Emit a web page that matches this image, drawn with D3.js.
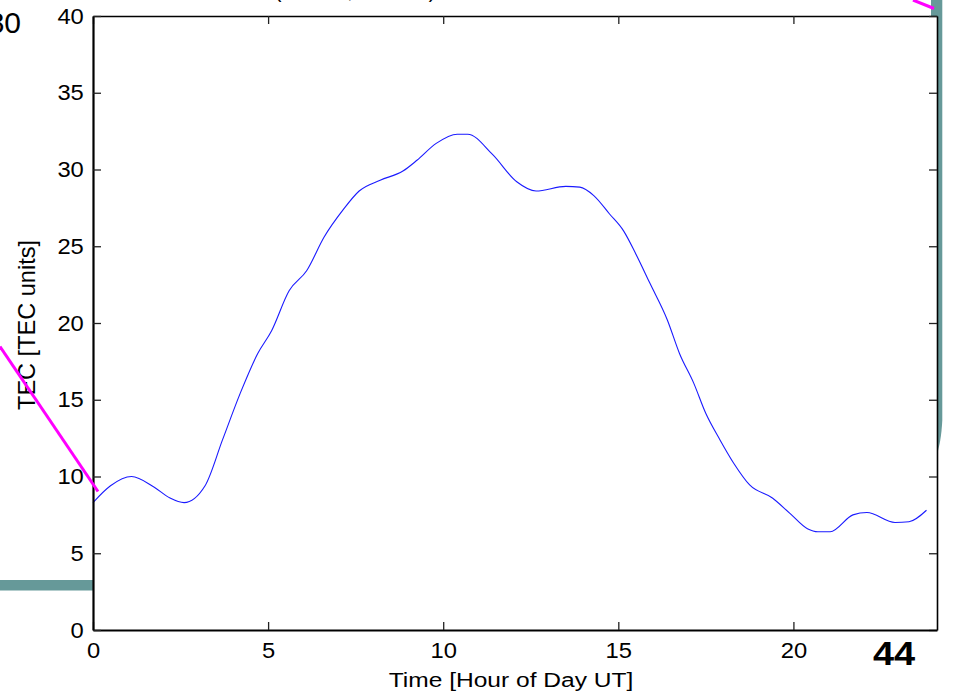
<!DOCTYPE html>
<html>
<head>
<meta charset="utf-8">
<script src="https://cdn.jsdelivr.net/npm/d3@7"></script>
<style>
  html, body { margin: 0; padding: 0; background: #fff; }
  #container { width: 955px; height: 695px; overflow: hidden; }
  text { font-family: "Liberation Sans", Arial, Helvetica, sans-serif; fill: #000; }
</style>
</head>
<body>
<div id="container"></div>
<script>
// TEC curve
const hours = [0, 0.5, 1.1, 1.75, 2.2, 2.6, 3.2, 3.7, 4.2, 4.7, 5.1, 5.6, 6.1, 6.6, 7.15, 7.6, 8.2, 8.85, 9.25, 9.8, 10.4, 10.7, 11.4, 12.1, 12.65, 13.5, 13.9, 14.3, 14.75, 15.15, 15.5, 15.9, 16.4, 16.75, 17.15, 17.5, 17.9, 18.3, 18.75, 19.4, 19.9, 20.4, 20.7, 21.05, 21.7, 22.1, 22.9, 23.3, 23.8];
const tec = [8.3, 9.4, 10.0, 9.3, 8.6, 8.3, 9.4, 12.4, 15.4, 18.0, 19.5, 22.1, 23.4, 25.6, 27.4, 28.6, 29.3, 29.9, 30.6, 31.7, 32.3, 32.3, 31.0, 29.2, 28.6, 28.9, 28.85, 28.3, 27.1, 26.0, 24.5, 22.6, 20.2, 18.0, 16.1, 14.1, 12.4, 10.85, 9.45, 8.6, 7.6, 6.6, 6.4, 6.4, 7.5, 7.65, 7.0, 7.05, 7.8];

const xTicks = [0, 5, 10, 15, 20];
const yTicks = [0, 5, 10, 15, 20, 25, 30, 35, 40];
const xDomain = [0, 24.1];
const yDomain = [0, 40];

const xLabel = "Time [Hour of Day UT]";
const yLabel = "TEC [TEC units]";
const slideNumber = "44";

const W = 955, H = 695;
const box = { left: 93, top: 16, right: 937, bottom: 630 };
const teal = "#669999";
const magenta = "#ff00ff";

const svg = d3.select("#container").append("svg")
    .attr("width", W).attr("height", H);

// slide decorations behind the plot
svg.append("rect").attr("x", 0).attr("y", 580).attr("width", box.left).attr("height", 10.5).attr("fill", teal);
svg.append("path")
    .attr("d", "M931,0 L942.3,0 L942.3,420 C941.5,436 939.5,446 937,454 L931,454 Z")
    .attr("fill", teal);

// clipped pieces of the slide title and a number from the previous slide
svg.append("text").attr("x", 21).attr("y", 33).attr("text-anchor", "end")
    .style("font-size", "30px").text("30");
[["(", 278], [",", 350], [")", 432]].forEach(([s, px]) => {
    svg.append("text").attr("x", px).attr("y", -2.5).attr("text-anchor", "middle")
        .style("font-size", "20px").text(s);
});

const x = d3.scaleLinear().domain(xDomain).range([box.left, box.right]);
const y = d3.scaleLinear().domain(yDomain).range([box.bottom, box.top]);

svg.append("rect")
    .attr("x", box.left).attr("y", box.top)
    .attr("width", box.right - box.left).attr("height", box.bottom - box.top)
    .attr("fill", "#fff");

const line = d3.line().x((d, i) => x(hours[i])).y(d => y(d)).curve(d3.curveMonotoneX);
svg.append("path").datum(tec)
    .attr("d", line)
    .attr("fill", "none").attr("stroke", "#1a1aff").attr("stroke-width", 1.1);

// axes, ticks pointing inward like MATLAB
const styleAxis = (g, w) => {
    g.select(".domain").attr("stroke", "#000").attr("stroke-width", w);
    g.selectAll(".tick line").attr("stroke", "#222").attr("stroke-width", 1.3);
};

svg.append("g").attr("transform", `translate(0,${box.top})`)
    .call(d3.axisTop(x).tickValues(xTicks).tickSizeInner(-8).tickSizeOuter(0).tickFormat(""))
    .call(g => styleAxis(g, 1.5));

svg.append("g").attr("transform", `translate(${box.right},0)`)
    .call(d3.axisRight(y).tickValues(yTicks).tickSizeInner(-8).tickSizeOuter(0).tickFormat(""))
    .call(g => styleAxis(g, 1.6));

const bottom = svg.append("g").attr("transform", `translate(0,${box.bottom})`)
    .call(d3.axisBottom(x).tickValues(xTicks).tickSizeInner(-8).tickSizeOuter(0).tickPadding(12))
    .call(g => styleAxis(g, 2.2));

const left = svg.append("g").attr("transform", `translate(${box.left},0)`)
    .call(d3.axisLeft(y).tickValues(yTicks).tickSizeInner(-8).tickSizeOuter(0).tickPadding(8.5))
    .call(g => styleAxis(g, 2.2));

[bottom, left].forEach(g => {
    g.attr("font-family", null).attr("font-size", null);
    g.selectAll(".tick text").style("font-size", "22px").attr("fill", "#000")
        .attr("transform", "scale(1.08,1)");
});

svg.append("text")
    .attr("transform", `translate(${(box.left + box.right) / 2 - 4},686.5) scale(1.17,1)`)
    .attr("text-anchor", "middle").style("font-size", "21px")
    .text(xLabel);

svg.append("text")
    .attr("transform", "translate(34.5,325) rotate(-90) scale(1.07,1.05)")
    .attr("text-anchor", "middle").style("font-size", "22px")
    .text(yLabel);

// slide number
svg.append("text")
    .attr("transform", "translate(873,665) scale(1.15,1)")
    .style("font-size", "33px").style("font-weight", "bold")
    .text(slideNumber);

// magenta connector lines drawn over everything
svg.append("line").attr("x1", 0).attr("y1", 346.5).attr("x2", 98).attr("y2", 491.5)
    .attr("stroke", magenta).attr("stroke-width", 3);
svg.append("line").attr("x1", 913).attr("y1", 0).attr("x2", 934).attr("y2", 8.5)
    .attr("stroke", magenta).attr("stroke-width", 3);
</script>
</body>
</html>
